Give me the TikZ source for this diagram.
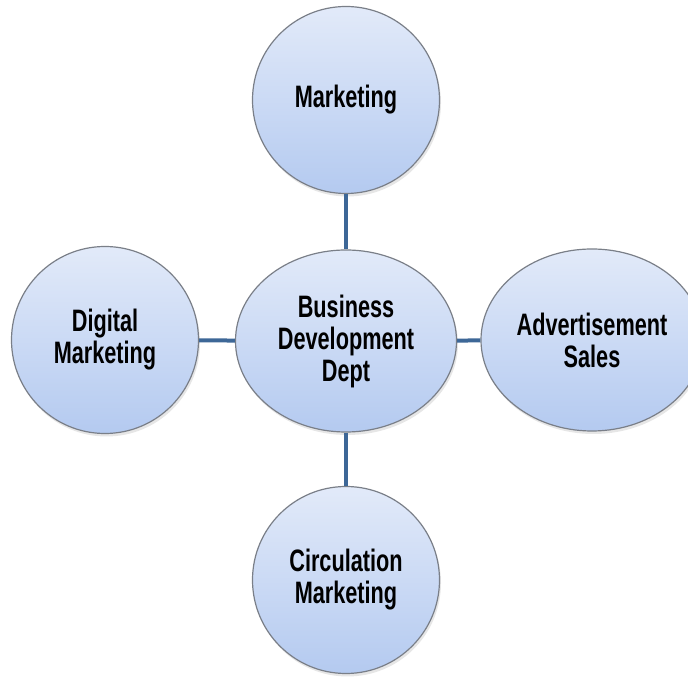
\documentclass[tikz,border=0pt]{standalone}
\usepackage{fontspec}
\setmainfont{Liberation Sans}[FakeStretch=0.7]
\usetikzlibrary{shapes.geometric,shadows}
\definecolor{bubtop}{HTML}{E2EAF9}
\definecolor{bubbot}{HTML}{B4CAF0}
\definecolor{bubline}{HTML}{7A7F88}
\definecolor{linkblue}{HTML}{3D6797}
\begin{document}
\begin{tikzpicture}[x=1pt, y=1pt, font=\fontsize{31}{32}\selectfont\bfseries, line join=round, line cap=round,
	bubble/.style={draw=bubline, line width=1.2pt, top color=bubtop, bottom color=bubbot, align=center,
		drop shadow={opacity=0.2, shadow xshift=1.5pt, shadow yshift=-3pt}},
	round/.style={bubble, circle, minimum size=187pt, inner sep=0pt},
	oval/.style={bubble, ellipse, minimum width=221pt, minimum height=182pt, inner sep=0pt},
	link/.style={draw=linkblue, line width=4pt, line cap=butt}]
					\clip (0,0) rectangle (688,677);
					\node[oval] (dept) at (346,336) {Business\\Development\\Dept};
					\node[round] (mkt) at (346,577) {Marketing};
					\node[round] (digital) at (105,337) {Digital\\Marketing};
					\node[oval, minimum width=222pt] (adsales) at (592,337) {Advertisement\\Sales};
					\node[round] (circ) at (346,97) {Circulation\\Marketing};
					\draw[link] (mkt) -- (dept);
					\draw[link] (digital) -- (dept);
					\draw[link] (adsales) -- (dept);
					\draw[link] (circ) -- (dept);
				\end{tikzpicture}
\end{document}
